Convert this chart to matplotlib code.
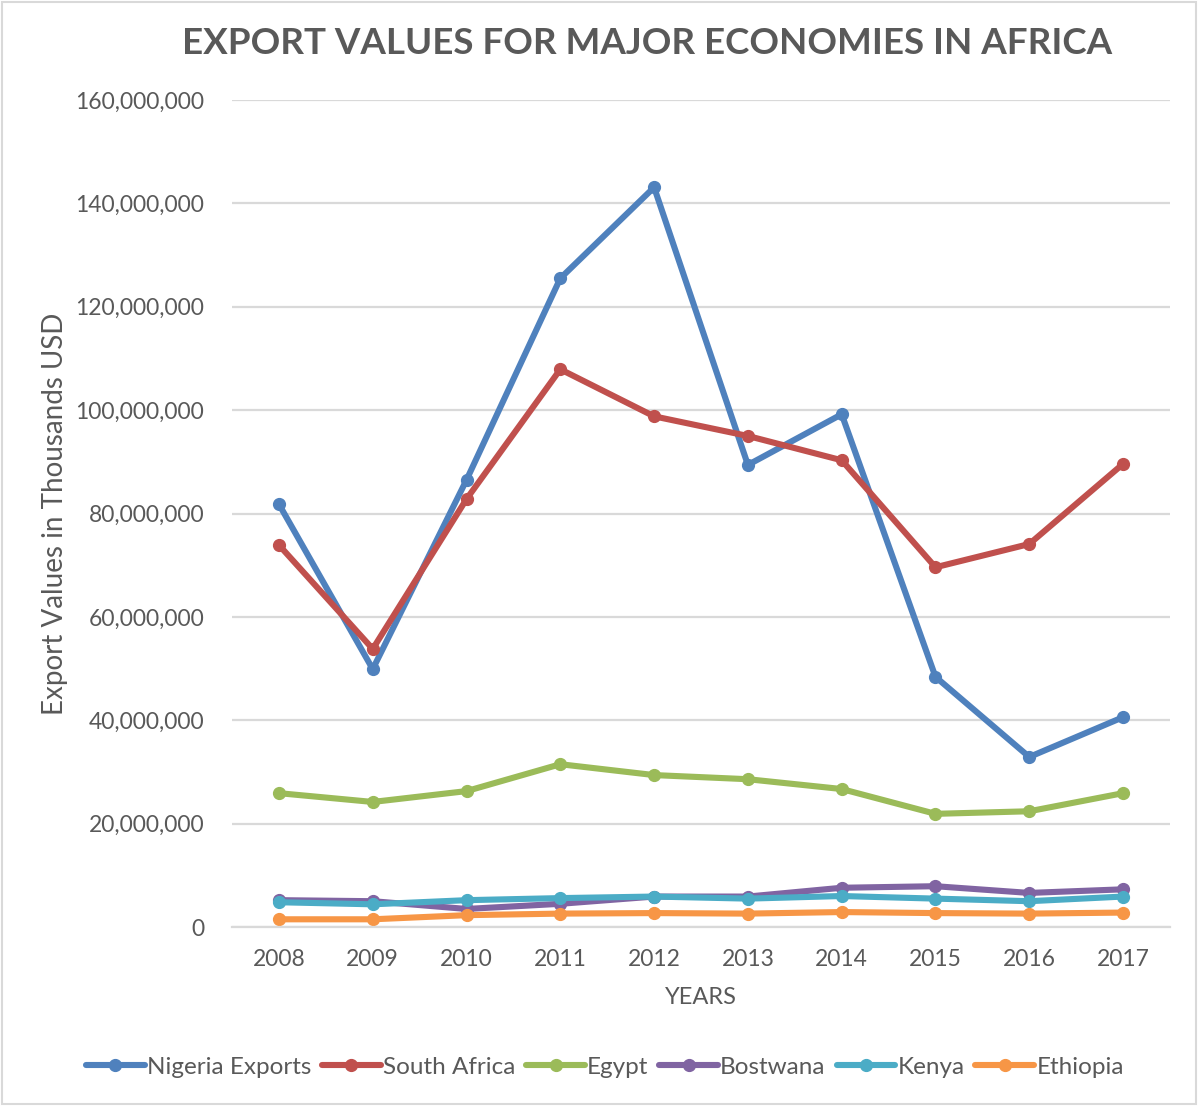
import matplotlib
matplotlib.use("Agg")
import matplotlib.pyplot as plt
from matplotlib.ticker import FuncFormatter, MultipleLocator
from matplotlib.patches import Rectangle

years = ["2008", "2009", "2010", "2011", "2012", "2013", "2014", "2015", "2016", "2017"]

nigeria = [81.8e6, 49.9e6, 86.5e6, 125.5e6, 143.1e6, 89.4e6, 99.2e6, 48.4e6, 32.9e6, 40.6e6]
south_africa = [73.9e6, 53.8e6, 82.8e6, 107.9e6, 98.8e6, 95.0e6, 90.3e6, 69.6e6, 74.1e6, 89.6e6]
egypt = [25.9e6, 24.2e6, 26.3e6, 31.5e6, 29.4e6, 28.6e6, 26.7e6, 21.9e6, 22.4e6, 25.9e6]
bostwana = [5.2e6, 5.0e6, 3.5e6, 4.5e6, 5.9e6, 5.9e6, 7.6e6, 7.9e6, 6.6e6, 7.3e6]
kenya = [4.8e6, 4.4e6, 5.2e6, 5.6e6, 5.9e6, 5.5e6, 6.0e6, 5.5e6, 5.0e6, 5.9e6]
ethiopia = [1.5e6, 1.5e6, 2.3e6, 2.6e6, 2.7e6, 2.6e6, 2.9e6, 2.7e6, 2.6e6, 2.8e6]

series_names = ["Nigeria Exports", "South Africa", "Egypt", "Bostwana", "Kenya", "Ethiopia"]
series_values = [nigeria, south_africa, egypt, bostwana, kenya, ethiopia]
series_colors = ["#4F81BD", "#C0504D", "#9BBB59", "#8064A2", "#4BACC6", "#F79646"]

text_color = "#595959"
grid_color = "#D9D9D9"
plt.rcParams["font.family"] = ["Lato", "DejaVu Sans"]

fig = plt.figure(figsize=(11.98, 11.06), dpi=100)
fig.patches.append(Rectangle((0.002, 0.002), 0.996, 0.996, transform=fig.transFigure,
                             fill=False, edgecolor="#D9D9D9", linewidth=1.5))

ax = fig.add_axes([0.1937, 0.1618, 0.7829, 0.7478])
x = list(range(len(years)))
for name, vals, col in zip(series_names, series_values, series_colors):
    ax.plot(x, vals, color=col, linewidth=4.4, marker="o", markersize=8.5,
            solid_capstyle="round", solid_joinstyle="round", label=name)

ax.set_xlim(-0.5, len(years) - 0.5)
ax.set_ylim(0, 160e6)
ax.yaxis.set_major_locator(MultipleLocator(20e6))
ax.yaxis.set_major_formatter(FuncFormatter(lambda v, p: f"{int(round(v)):,}"))
ax.set_xticks(x)
ax.set_xticklabels(years)

ax.grid(axis="y", color=grid_color, linewidth=1.6)
ax.set_axisbelow(True)
for side in ["top", "right", "left"]:
    ax.spines[side].set_visible(False)
ax.spines["bottom"].set_color(grid_color)
ax.spines["bottom"].set_linewidth(1.6)
ax.tick_params(axis="both", length=0, labelsize=16.5, labelcolor=text_color)
ax.tick_params(axis="y", pad=20)
ax.tick_params(axis="x", pad=16)

ax.set_xlabel("YEARS", fontsize=17, color=text_color, labelpad=12)
ax.set_ylabel("Export Values in Thousands USD", fontsize=20, color=text_color, labelpad=5)

fig.text(0.54, 0.961, "EXPORT VALUES FOR MAJOR ECONOMIES IN AFRICA", ha="center", va="center",
         fontsize=26.5, fontweight="bold", color=text_color)

leg = fig.legend(loc="center", bbox_to_anchor=(0.505, 0.035), ncol=6, frameon=False,
                 fontsize=17.5, handlelength=2.4, handletextpad=0.1, columnspacing=0.45)
for t in leg.get_texts():
    t.set_color(text_color)

fig.savefig("out.png", dpi=100)
